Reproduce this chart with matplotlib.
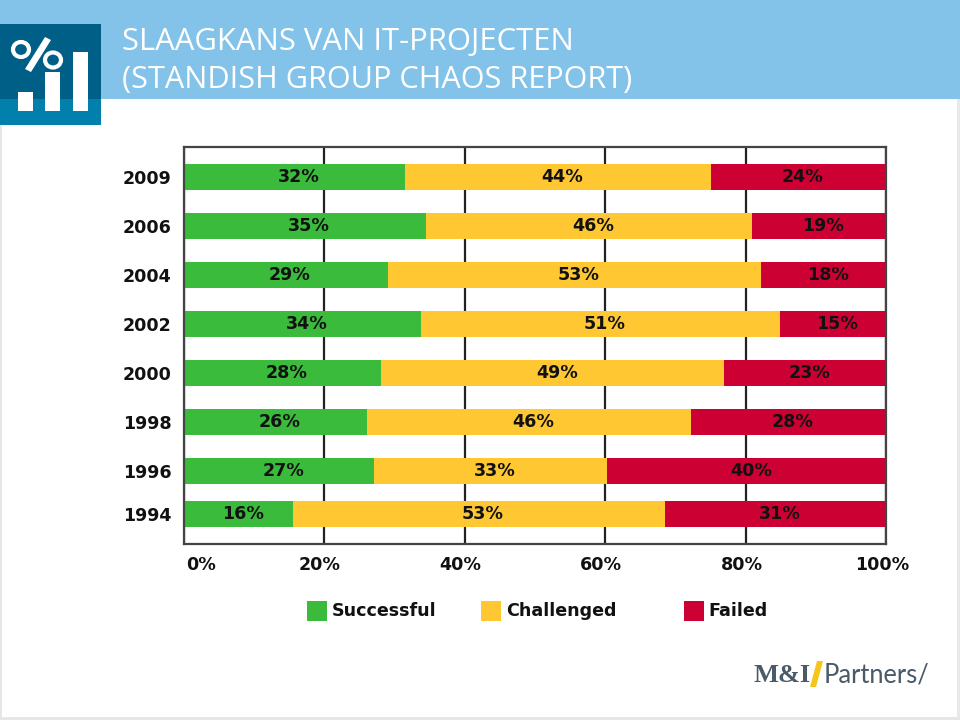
import matplotlib
matplotlib.use("Agg")
import matplotlib.pyplot as plt
from matplotlib.patches import Rectangle, Polygon, Ellipse
from matplotlib.transforms import ScaledTranslation

years = ["2009", "2006", "2004", "2002", "2000", "1998", "1996", "1994"]
# Segment widths as drawn in the picture (they differ a little from the printed labels)
successful = [31.5, 34.5, 29.0, 33.8, 28.1, 26.0, 27.1, 15.5]
challenged = [43.6, 46.4, 53.2, 51.1, 48.8, 46.2, 33.2, 53.0]
failed = [24.9, 19.1, 17.8, 15.1, 23.1, 27.8, 39.7, 31.5]
successful_labels = ["32%", "35%", "29%", "34%", "28%", "26%", "27%", "16%"]
challenged_labels = ["44%", "46%", "53%", "51%", "49%", "46%", "33%", "53%"]
failed_labels = ["24%", "19%", "18%", "15%", "23%", "28%", "40%", "31%"]
x_ticks = [0, 20, 40, 60, 80, 100]
series_names = ["Successful", "Challenged", "Failed"]

GREEN, YELLOW, RED = "#3BBB3B", "#FFC832", "#CC0033"
W, H = 960, 720
TXT = "#111111"
FS = 12.6

fig = plt.figure(figsize=(W / 100, H / 100), dpi=100, facecolor="white")

def fx(px):
    return px / W

def fy(py):
    return 1 - py / H

def frect(x0, y0, x1, y1, color, z=1):
    fig.add_artist(Rectangle((fx(x0), fy(y1)), fx(x1) - fx(x0), fy(y0) - fy(y1),
                             transform=fig.transFigure, facecolor=color,
                             edgecolor="none", zorder=z))

# page frame and header band
frect(0, 0, 2, 720, "#E6E6E6", 0)
frect(957, 0, 960, 720, "#E9E9E9", 0)
frect(0, 717, 960, 720, "#E6E6E6", 0)
frect(0, 0, 960, 99, "#83C3EA", 1)
frect(0, 24, 101, 99, "#005F87", 2)
frect(0, 99, 101, 125, "#0080AA", 2)
for x0, y0, x1, y1 in [(18, 92, 33, 111), (45, 72, 60, 111), (73, 52, 88, 111)]:
    frect(x0, y0, x1, y1, "white", 3)
fig.add_artist(Polygon([(fx(45), fy(37)), (fx(51), fy(40)), (fx(31), fy(72)), (fx(25), fy(69))],
                       closed=True, transform=fig.transFigure, facecolor="white", edgecolor="none", zorder=3))
for cx, cy in [(21, 49.5), (53, 60)]:
    fig.add_artist(Ellipse((fx(cx), fy(cy)), 16 / W, 15 / H, transform=fig.transFigure,
                           facecolor="none", edgecolor="white", lw=3, zorder=4))

fig.text(fx(122), fy(42), "SLAAGKANS VAN IT-PROJECTEN", color="white", fontsize=22.3,
         family="Open Sans", va="center", ha="left", zorder=4)
fig.text(fx(122), fy(80), "(STANDISH GROUP CHAOS REPORT)", color="white", fontsize=22.1,
         family="Open Sans", va="center", ha="left", zorder=4)

# chart
PITCH = 49.0
rows = [0, 1, 2, 3, 4, 5, 6, 6.88]
ax = fig.add_axes([fx(184), fy(544), (886 - 184) / W, (544 - 147) / H])
ax.set_xlim(0, 100)
ax.set_ylim(rows[-1] + 30 / PITCH, -30 / PITCH)
ax.set_axisbelow(True)
ax.grid(axis="x", color="#222222", lw=1.6)
ax.tick_params(length=0, pad=9)
for s in ax.spines.values():
    s.set_color("#444444")
    s.set_linewidth(1.6)

lefts = [0.0] * len(years)
for vals, labs, col in [(successful, successful_labels, GREEN),
                        (challenged, challenged_labels, YELLOW),
                        (failed, failed_labels, RED)]:
    ax.barh(rows, vals, left=lefts, height=0.53, color=col, zorder=2)
    for r, v, l, t in zip(rows, vals, lefts, labs):
        ax.annotate(t, (l + v / 2, r), xytext=(3, 0), textcoords="offset points",
                    ha="center", va="center", fontsize=FS, fontweight="bold",
                    color=TXT, zorder=3)
    lefts = [a + b for a, b in zip(lefts, vals)]

ax.set_yticks(rows, years)
ax.set_xticks(x_ticks, [f"{v}%" for v in x_ticks])
for t in ax.get_xticklabels() + ax.get_yticklabels():
    t.set_fontsize(FS)
    t.set_fontweight("bold")
    t.set_color(TXT)
x_shift = [12, -3.5, -3, -3, -3, -3]
for t, d in zip(ax.get_xticklabels(), x_shift):
    t.set_transform(t.get_transform() + ScaledTranslation(d / 72, 0, fig.dpi_scale_trans))

# legend
for (sx, tx), name, col in zip([(307, 332), (481, 506), (684, 708)], series_names, [GREEN, YELLOW, RED]):
    frect(sx, 601, sx + 20, 621, col, 3)
    fig.text(fx(tx), fy(616), name, fontsize=FS, fontweight="bold", color=TXT,
             va="baseline", ha="left", zorder=4)

# logo
SLATE = "#4A5A68"
fig.text(fx(753), fy(675), "M&I", fontsize=19, fontweight="bold", family="Liberation Serif",
         color=SLATE, va="center", ha="left", zorder=4)
fig.add_artist(Polygon([(fx(810), fy(687)), (fx(816), fy(687)), (fx(823), fy(661)), (fx(817), fy(661))],
                       closed=True, transform=fig.transFigure, facecolor="#F5C518", edgecolor="none", zorder=4))
fig.text(fx(824), fy(675), "Partners/", fontsize=18.4, family="Lato", color=SLATE,
         va="center", ha="left", zorder=4)

fig.savefig("out.png", dpi=100)
